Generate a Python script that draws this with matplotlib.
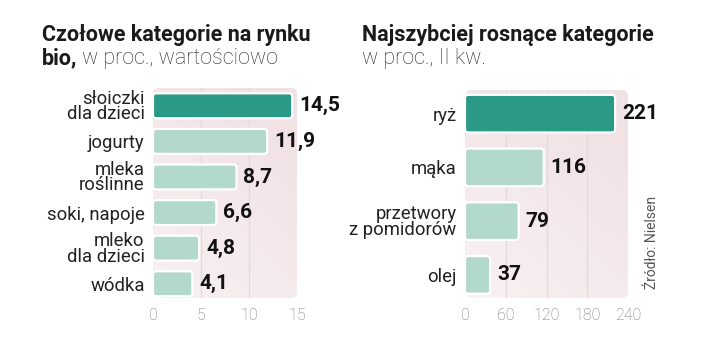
import matplotlib.pyplot as plt
import numpy as np
from matplotlib.patches import FancyBboxPatch

# data
left_cats = ['słoiczki\ndla dzieci', 'jogurty', 'mleka\nroślinne', 'soki, napoje', 'mleko\ndla dzieci', 'wódka']
left_vals = [14.5, 11.9, 8.7, 6.6, 4.8, 4.1]
left_ticks = [0, 5, 10, 15]

right_cats = ['ryż', 'mąka', 'przetwory\nz pomidorów', 'olej']
right_vals = [221, 116, 79, 37]
right_ticks = [0, 60, 120, 180, 240]

DARK = '#2a9a86'
LIGHT = '#b3d9cc'

plt.rcParams['font.family'] = ['Roboto', 'DejaVu Sans']

fig = plt.figure(figsize=(7.2, 3.56), dpi=100)


def panel(rect, cats, vals, ticks, xmax, ylim, fmt):
    ax = fig.add_axes(rect)
    ax.set_xlim(0, xmax)
    ax.set_ylim(*ylim)
    ax.patch.set_visible(False)
    for s in ax.spines.values():
        s.set_visible(False)

    # rounded gradient background
    bg = FancyBboxPatch((0, 0), 1, 1, boxstyle='round,pad=0,rounding_size=0.04',
                        transform=ax.transAxes, facecolor='none', edgecolor='none',
                        mutation_aspect=rect[2] * 7.2 / (rect[3] * 3.56), zorder=0)
    ax.add_patch(bg)
    gx, gy = np.meshgrid(np.linspace(0, 1, 100), np.linspace(0, 1, 100))
    g = np.clip(0.5 * gy + 0.35 * gx + 0.3, 0, 1)
    c0 = np.array([252, 248, 249]) / 255
    c1 = np.array([241, 226, 229]) / 255
    img = c0[None, None, :] * (1 - g[..., None]) + c1[None, None, :] * g[..., None]
    im = ax.imshow(img, extent=[0, 1, 1, 0], transform=ax.transAxes, aspect='auto', zorder=0)
    im.set_clip_path(bg)

    for t in ticks[1:-1]:
        ax.axvline(t, color='#e6d9db', lw=0.9, zorder=1)

    y = np.arange(len(cats))
    colors = [DARK] + [LIGHT] * (len(cats) - 1)
    bars = ax.barh(y, vals, height=0.7, color=colors)

    fig.canvas.draw()
    p0 = ax.transData.transform((0, 0))
    p1 = ax.transData.transform((1, 1))
    px_x = abs(p1[0] - p0[0])
    px_y = abs(p1[1] - p0[1])
    r = 3.0 / px_x
    for b, c in zip(bars, colors):
        b.set_visible(False)
        fb = FancyBboxPatch((b.get_x(), b.get_y()), b.get_width(), b.get_height(),
                            boxstyle=f'round,pad=0,rounding_size={r}',
                            mutation_aspect=px_x / px_y,
                            facecolor=c, edgecolor='white', lw=1.6, zorder=2)
        ax.add_patch(fb)
        ax.annotate(fmt(b.get_width()), (b.get_width(), b.get_y() + b.get_height() / 2),
                    xytext=(5, 0), textcoords='offset points', va='center', ha='left',
                    fontsize=15, fontweight='bold', color='#111111', annotation_clip=False)

    ax.set_yticks(y)
    ax.set_yticklabels(cats, fontsize=13.3, color='#222222', linespacing=0.82)
    ax.set_xticks(ticks)
    ax.set_xticklabels([str(t) for t in ticks], fontsize=11.5, color='#777777',
                       fontweight='light')
    ax.tick_params(length=0)
    ax.tick_params(axis='y', pad=6)
    ax.tick_params(axis='x', pad=7)
    ax.grid(False)
    return ax


axl = panel([153 / 720, 58 / 356, 144 / 720, 210 / 356], left_cats, left_vals, left_ticks, 15,
            (5.4, -0.5), lambda v: f'{v:.1f}'.replace('.', ','))
axr = panel([465 / 720, 58 / 356, 163 / 720, 208 / 356], right_cats, right_vals, right_ticks, 240,
            (3.43, -0.44), lambda v: f'{v:.0f}')

# titles
fig.text(42 / 720, 1 - 41 / 356, 'Czołowe kategorie na rynku', fontsize=15.5, fontweight='bold',
         color='#1a1a1a', va='baseline')
t = fig.text(42 / 720, 1 - 64 / 356, 'bio,', fontsize=15.5, fontweight='bold', color='#1a1a1a',
             va='baseline')
fig.canvas.draw()
bb = t.get_window_extent()
fig.text((bb.x1 + 5) / 720, 1 - 64 / 356, 'w proc., wartościowo', fontsize=15.5,
         fontweight='light', color='#2a2a2a', va='baseline')

fig.text(362 / 720, 1 - 41 / 356, 'Najszybciej rosnące kategorie', fontsize=15.5,
         fontweight='bold', color='#1a1a1a', va='baseline')
fig.text(362 / 720, 1 - 64 / 356, 'w proc., II kw.', fontsize=15.5, fontweight='light',
         color='#2a2a2a', va='baseline')

fig.text(652 / 720, 1 - 242 / 356, 'Źródło: Nielsen', rotation=90, fontsize=10,
         color='#555555', ha='center', va='center')

fig.savefig('out.png', dpi=100, facecolor='white')
